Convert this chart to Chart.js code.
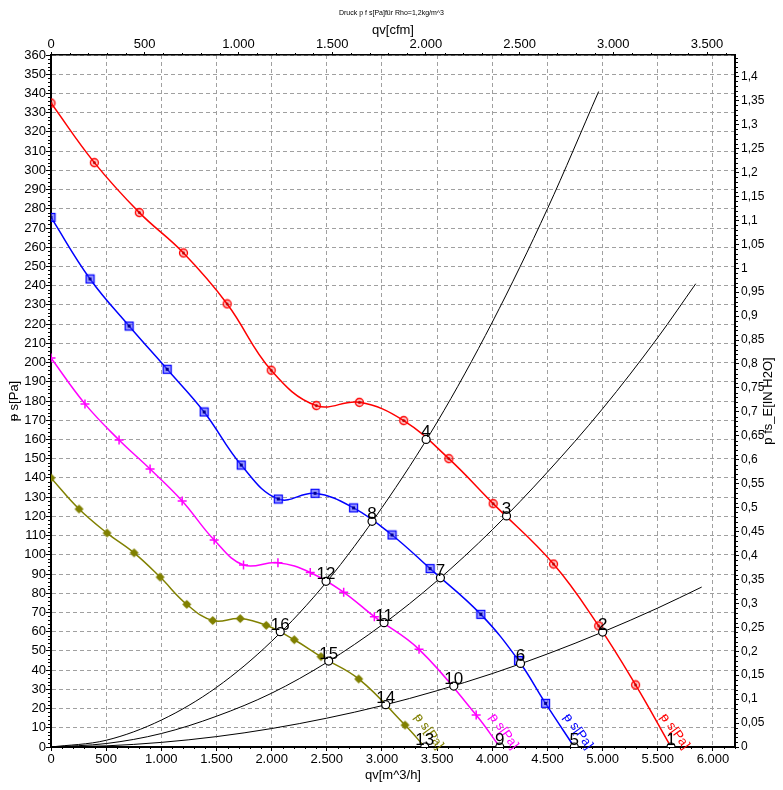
<!DOCTYPE html>
<html>
<head>
<meta charset="utf-8">
<script src="https://cdn.jsdelivr.net/npm/chart.js@4/dist/chart.umd.min.js"></script>
<style>
  html, body { margin: 0; padding: 0; background: #fff; }
  canvas { display: block; }
</style>
</head>
<body>
<canvas id="kennlinie" width="783" height="790"></canvas>
<script>
// Luefterkennlinien: qv in m^3/h, ps in Pa
const redQv = [0, 393, 801, 1201, 1597, 1996, 2405, 2795, 3197, 3606, 4008, 4555, 4964, 5299, 5620];
const redPs = [335, 304, 278, 257, 230.5, 196, 177.6, 179.3, 169.8, 150, 126.6, 95.2, 63, 32.3, 0];

const blueQv = [0, 354, 708, 1053, 1388, 1724, 2060, 2393, 2743, 3091, 3436, 3896, 4238, 4483, 4743];
const bluePs = [275.5, 243.5, 219, 196.5, 174.3, 146.7, 129, 132, 124.4, 110.3, 92.8, 69, 45, 22.7, 0];

const magentaQv = [0, 308, 617, 898, 1189, 1479, 1745, 2057, 2350, 2653, 2931, 3336, 3854, 4068];
const magentaPs = [202.4, 178.5, 159.7, 144.6, 128, 107.7, 94.7, 95.9, 90.8, 80.5, 67.8, 50.8, 16.6, 0];

const oliveQv = [0, 254, 508, 753, 989, 1231, 1466, 1715, 1951, 2205, 2447, 2789, 3209, 3388];
const olivePs = [140, 123.8, 111.3, 101, 88.4, 74.2, 65.8, 66.8, 63.3, 55.8, 47, 35.4, 11.4, 0];

// Anlagenkennlinien
const sysAQv = [0, 500, 1000, 1500, 2000, 2500, 3000, 3500, 4000, 4500, 4964];
const sysAPs = [0, 3.5, 14, 31, 55, 86, 124.5, 169, 221, 280, 341];
const sysBQv = [0, 500, 1000, 1500, 2000, 2500, 3000, 3500, 4000, 4500, 5000, 5500, 5844];
const sysBPs = [0, 1.8, 7, 16, 28, 44, 63.5, 86.5, 113, 143, 176, 213, 241];
const sysCQv = [0, 500, 1000, 1500, 2000, 2500, 3000, 3500, 4000, 4500, 5000, 5500, 5898];
const sysCPs = [0, 0.6, 2.4, 5.4, 9.6, 15, 21.5, 29.3, 38.2, 48.4, 59.8, 72.3, 83.2];

// Betriebspunkte 1..16
const opQv = [5620, 5000, 4129, 3400, 4743, 4256, 3530, 2910, 4068, 3651, 3019, 2493, 3388, 3034, 2517, 2078];
const opPs = [0, 59.8, 120.2, 160, 0, 43.5, 88, 117.4, 0, 31.7, 64.7, 86.2, 0, 22, 44.7, 60];
const opLabels = ['1', '2', '3', '4', '5', '6', '7', '8', '9', '10', '11', '12', '13', '14', '15', '16'];

// Achsenteilung
const qvTicks = [0, 500, 1000, 1500, 2000, 2500, 3000, 3500, 4000, 4500, 5000, 5500, 6000];
const cfmTicks = [0, 500, 1000, 1500, 2000, 2500, 3000, 3500];
const psTicks = [0, 10, 20, 30, 40, 50, 60, 70, 80, 90, 100, 110, 120, 130, 140, 150, 160, 170, 180,
    190, 200, 210, 220, 230, 240, 250, 260, 270, 280, 290, 300, 310, 320, 330, 340, 350, 360];
const inTicks = [0, 0.05, 0.1, 0.15, 0.2, 0.25, 0.3, 0.35, 0.4, 0.45, 0.5, 0.55, 0.6, 0.65, 0.7,
    0.75, 0.8, 0.85, 0.9, 0.95, 1, 1.05, 1.1, 1.15, 1.2, 1.25, 1.3, 1.35, 1.4];

const qvMax = 6200;
const psMax = 360;
const M3H_PER_CFM = 1.69901;
const PA_PER_INH2O = 249.089;

const curveLabel = '\u1D7D s[Pa]';
const FONT = 'Liberation Sans, Arial, sans-serif';

const toXY = (xs, ys) => xs.map((x, i) => ({ x: x, y: ys[i] }));
const fmtDot = v => String(Math.round(v)).replace(/\B(?=(\d{3})+(?!\d))/g, '.');
const fmtComma = v => String(parseFloat(v.toFixed(2))).replace('.', ',');
const fixTicks = list => sc => { sc.ticks = list.map(v => ({ value: v })); };

// Marker als kleine Canvas-Bilder
function ringMarker(color) {
    const c = document.createElement('canvas');
    c.width = 11; c.height = 11;
    const g = c.getContext('2d');
    g.beginPath();
    g.arc(5.5, 5.5, 4, 0, Math.PI * 2);
    g.fillStyle = 'rgba(255,0,0,0.2)';
    g.fill();
    g.lineWidth = 1.3;
    g.strokeStyle = color;
    g.stroke();
    g.beginPath();
    g.arc(5.5, 5.5, 1.5, 0, Math.PI * 2);
    g.fillStyle = '#c00000';
    g.fill();
    return c;
}

function squareMarker(color) {
    const c = document.createElement('canvas');
    c.width = 11; c.height = 11;
    const g = c.getContext('2d');
    g.fillStyle = 'rgba(70,70,255,0.55)';
    g.fillRect(1.5, 1.5, 8, 8);
    g.lineWidth = 1.2;
    g.strokeStyle = color;
    g.strokeRect(1.5, 1.5, 8, 8);
    g.fillStyle = '#000090';
    g.fillRect(4, 4, 3, 3);
    return c;
}

function dotMarker(color) {
    const c = document.createElement('canvas');
    c.width = 11; c.height = 11;
    const g = c.getContext('2d');
    g.fillStyle = color;
    g.beginPath();
    g.arc(5.5, 5.5, 3, 0, Math.PI * 2);
    g.fill();
    g.beginPath();
    g.moveTo(5.5, 1); g.lineTo(10, 5.5); g.lineTo(5.5, 10); g.lineTo(1, 5.5);
    g.closePath();
    g.fill();
    return c;
}

function fanCurve(xs, ys, color, style, extra) {
    const n = xs.length;
    return Object.assign({
        data: toXY(xs, ys),
        showLine: true,
        borderColor: color,
        backgroundColor: color,
        borderWidth: 1.5,
        tension: 0.4,
        pointStyle: style,
        pointRadius: ctx => ctx.dataIndex === n - 1 ? 0 : 4,
        curveLabel: curveLabel,
        order: 1
    }, extra || {});
}

function systemCurve(xs, ys) {
    return {
        data: toXY(xs, ys),
        showLine: true,
        borderColor: '#000',
        borderWidth: 1,
        cubicInterpolationMode: 'monotone',
        pointRadius: 0,
        order: 2
    };
}

// Zwischenstriche, Betriebspunkt-Nummern, Kurvenbeschriftung, rechter Achsentitel
const extrasPlugin = {
    id: 'extras',
    afterDraw(chart) {
        const ctx = chart.ctx;
        const a = chart.chartArea;
        const s = chart.scales;
        ctx.save();
        ctx.strokeStyle = '#000';
        ctx.lineWidth = 1;
        ctx.beginPath();
        for (let v = 0; v <= psMax; v += 2) {
            if (v % 10 === 0) continue;
            const py = Math.round(s.y.getPixelForValue(v)) + 0.5;
            ctx.moveTo(a.left - 3, py); ctx.lineTo(a.left, py);
        }
        const maxIn = psMax / PA_PER_INH2O;
        for (let k = 0; k <= Math.floor(maxIn * 100); k++) {
            if (k % 5 === 0) continue;
            const py = Math.round(s.y2.getPixelForValue(k / 100)) + 0.5;
            ctx.moveTo(a.right, py); ctx.lineTo(a.right + 3, py);
        }
        for (let v = 0; v <= qvMax; v += 100) {
            if (v % 500 === 0) continue;
            const px = Math.round(s.x.getPixelForValue(v)) + 0.5;
            ctx.moveTo(px, a.bottom); ctx.lineTo(px, a.bottom + 2);
        }
        for (let v = 0; v <= qvMax / M3H_PER_CFM; v += 100) {
            if (v % 500 === 0) continue;
            const px = Math.round(s.x2.getPixelForValue(v)) + 0.5;
            ctx.moveTo(px, a.top - 2); ctx.lineTo(px, a.top);
        }
        ctx.stroke();

        // Kurvenbeschriftung entlang der Kennlinien
        ctx.font = '13px ' + FONT;
        ctx.textAlign = 'left';
        ctx.textBaseline = 'middle';
        chart.data.datasets.forEach((ds, i) => {
            if (!ds.curveLabel) return;
            const pts = chart.getDatasetMeta(i).data;
            const end = pts[pts.length - 1];
            ctx.save();
            ctx.translate(end.x - 8, end.y - 32);
            ctx.rotate(54 * Math.PI / 180);
            ctx.fillStyle = ds.borderColor;
            ctx.fillText(ds.curveLabel, 0, 0);
            ctx.restore();
        });

        // Nummern der Betriebspunkte
        const opIndex = chart.data.datasets.findIndex(d => d.opPoints);
        const opMeta = chart.getDatasetMeta(opIndex);
        ctx.font = '17px ' + FONT;
        ctx.textAlign = 'center';
        ctx.textBaseline = 'alphabetic';
        ctx.fillStyle = '#000';
        opMeta.data.forEach((p, i) => {
            ctx.fillText(opLabels[i], p.x, p.y - 2);
        });

        // rechter Achsentitel (von unten nach oben gelesen)
        ctx.font = '13px ' + FONT;
        ctx.textAlign = 'center';
        ctx.textBaseline = 'middle';
        ctx.translate(768, (a.top + a.bottom) / 2);
        ctx.rotate(-Math.PI / 2);
        ctx.fillText('p fs_E[IN H2O]', 0, 0);
        ctx.restore();
    }
};

Chart.defaults.font.family = FONT;
Chart.defaults.color = '#000';

const gridStyle = { color: '#a0a0a0', lineWidth: 1, tickColor: '#000', tickBorderDash: [] };

new Chart(document.getElementById('kennlinie').getContext('2d'), {
    type: 'scatter',
    data: {
        datasets: [
            {
                data: toXY(opQv, opPs),
                opPoints: true,
                pointStyle: 'circle',
                pointRadius: 4,
                backgroundColor: '#fff',
                borderColor: '#000',
                borderWidth: 1.2,
                clip: { left: 6, right: 6, top: 6, bottom: 0 },
                order: 0
            },
            fanCurve(redQv, redPs, '#ff0000', ringMarker('#ff0000')),
            fanCurve(blueQv, bluePs, '#0000ff', squareMarker('#0000ff')),
            fanCurve(magentaQv, magentaPs, '#ff00ff', 'cross', { pointBorderWidth: 1.5, pointRadius: ctx => ctx.dataIndex === magentaQv.length - 1 ? 0 : 4.5 }),
            fanCurve(oliveQv, olivePs, '#808000', dotMarker('#808000')),
            systemCurve(sysAQv, sysAPs),
            systemCurve(sysBQv, sysBPs),
            systemCurve(sysCQv, sysCPs)
        ]
    },
    options: {
        responsive: false,
        animation: false,
        events: [],
        layout: { padding: 0 },
        plugins: {
            legend: { display: false },
            tooltip: { enabled: false },
            title: {
                display: true,
                text: 'Druck p f s[Pa]für Rho=1,2kg/m^3',
                font: { size: 7, weight: 'normal' },
                padding: { top: 9, bottom: 0 }
            }
        },
        scales: {
            x: {
                type: 'linear',
                position: 'bottom',
                min: 0,
                max: qvMax,
                afterFit: sc => { sc.height = 43; },
                afterBuildTicks: fixTicks(qvTicks),
                ticks: { autoSkip: false, maxRotation: 0, padding: 1, font: { size: 13 }, callback: v => fmtDot(v) },
                grid: Object.assign({ tickLength: 4 }, gridStyle),
                border: { color: '#000', width: 2, dash: [4, 3] },
                title: { display: true, text: 'qv[m^3/h]', font: { size: 13 }, padding: { top: 0, bottom: 7 } }
            },
            x2: {
                type: 'linear',
                position: 'top',
                min: 0,
                max: qvMax / M3H_PER_CFM,
                afterFit: sc => { sc.height = 37.6; },
                afterBuildTicks: fixTicks(cfmTicks),
                ticks: { autoSkip: false, maxRotation: 0, padding: 0, font: { size: 13 }, callback: v => fmtDot(v) },
                grid: { drawOnChartArea: false, tickLength: 3, tickColor: '#000' },
                border: { color: '#000', width: 1.5 },
                title: { display: true, text: 'qv[cfm]', font: { size: 13 }, padding: { top: 5, bottom: 0 } }
            },
            y: {
                type: 'linear',
                position: 'left',
                min: 0,
                max: psMax,
                afterFit: sc => { sc.width = 51; },
                afterBuildTicks: fixTicks(psTicks),
                ticks: { autoSkip: false, padding: 0, font: { size: 13 } },
                grid: Object.assign({ tickLength: 5 }, gridStyle),
                border: { color: '#000', width: 2, dash: [4, 3] },
                title: { display: true, text: curveLabel, font: { size: 13 }, padding: { top: 7, bottom: 0 } }
            },
            y2: {
                type: 'linear',
                position: 'right',
                min: 0,
                max: psMax / PA_PER_INH2O,
                afterFit: sc => { sc.width = 48; },
                afterBuildTicks: fixTicks(inTicks),
                ticks: { autoSkip: false, padding: 2, font: { size: 12 }, callback: v => fmtComma(v) },
                grid: { drawOnChartArea: false, tickLength: 4, tickColor: '#000' },
                border: { color: '#000', width: 2 }
            }
        }
    },
    plugins: [extrasPlugin]
});
</script>
</body>
</html>
